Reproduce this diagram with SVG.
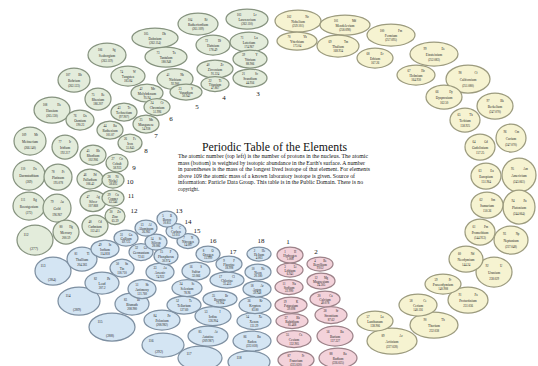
<svg xmlns="http://www.w3.org/2000/svg" width="538" height="366" viewBox="0 0 538 366">
<style>
text{font-family:"Liberation Serif","Times New Roman",serif;font-size:3px;text-anchor:middle;fill:#1e1e1e}
.nm{font-size:3.4px}
.bn{font-size:3.6px}
.d ellipse{fill:#e3ecdb;stroke:#86937f;stroke-width:1.25}
.f ellipse{fill:#f6f3d1;stroke:#9c9b7e;stroke-width:1.25}
.p ellipse{fill:#d4e5f3;stroke:#7e90a2;stroke-width:1.25}
.s ellipse{fill:#f3d2da;stroke:#9c8289;stroke-width:1.25}
.g text{font-size:7px;fill:#111;text-anchor:middle}
.title{font-size:12px;text-anchor:start;fill:#111}
.para{font-size:5.2px;text-anchor:start;fill:#111}
</style>
<rect width="538" height="366" fill="#ffffff"/>
<g id="d-block">
<g id="Lr" class="d" transform="translate(247 19)"><ellipse rx="21" ry="10"/><text y="-3.4"><tspan x="-8">103</tspan><tspan x="8">Lr</tspan></text><text class="nm" y="1.8">Lawrencium</text><text y="6.2">(262.110)</text></g>
<g id="Rf" class="d" transform="translate(198 24)"><ellipse rx="20" ry="11"/><text y="-3.4"><tspan x="-8">104</tspan><tspan x="8">Rf</tspan></text><text class="nm" y="1.8">Rutherfordium</text><text y="6.2">(261.109)</text></g>
<g id="Db" class="d" transform="translate(155 38)"><ellipse rx="23" ry="10"/><text y="-3.4"><tspan x="-9">105</tspan><tspan x="9">Db</tspan></text><text class="nm" y="1.8">Dubnium</text><text y="6.2">(262.114)</text></g>
<g id="Sg" class="d" transform="translate(107 55)"><ellipse rx="19" ry="12"/><text y="-4.2"><tspan x="-7">106</tspan><tspan x="7">Sg</tspan></text><text class="nm" y="2">Seaborgium</text><text y="7">(263.119)</text></g>
<g id="Bh" class="d" transform="translate(74 80)"><ellipse rx="16" ry="12"/><text y="-4.2"><tspan x="-6">107</tspan><tspan x="6">Bh</tspan></text><text class="nm" y="2">Bohrium</text><text y="7">(262.123)</text></g>
<g id="Hs" class="d" transform="translate(52 110)"><ellipse rx="18" ry="13"/><text y="-4.2"><tspan x="-7">108</tspan><tspan x="7">Hs</tspan></text><text class="nm" y="2">Hassium</text><text y="7">(265.130)</text></g>
<g id="Mt" class="d" transform="translate(30 141)"><ellipse rx="16" ry="14"/><text y="-5"><tspan x="-6">109</tspan><tspan x="6">Mt</tspan></text><text class="nm" y="2">Meitnerium</text><text y="7.8">(266.140)</text></g>
<g id="Ds" class="d" transform="translate(29 175)"><ellipse rx="16" ry="15"/><text y="-5"><tspan x="-6">110</tspan><tspan x="6">Ds</tspan></text><text class="nm" y="2">Darmstadtium</text><text y="7.8">(269)</text></g>
<g id="Rg" class="d" transform="translate(29 206)"><ellipse rx="16" ry="14"/><text y="-5"><tspan x="-6">111</tspan><tspan x="6">Rg</tspan></text><text class="nm" y="2">Roentgenium</text><text y="7.8">(272)</text></g>
<g id="E112" class="d" transform="translate(35 240)"><ellipse rx="18" ry="15"/><text class="bn" x="-9" y="-4">112</text><text class="bn" x="-1" y="10">(277)</text></g>
<g id="Lu" class="d" transform="translate(249 42)"><ellipse rx="19" ry="10"/><text y="-3.4"><tspan x="-7">71</tspan><tspan x="7">Lu</tspan></text><text class="nm" y="1.8">Lutetium</text><text y="6.2">174.967</text></g>
<g id="Hf" class="d" transform="translate(213 45)"><ellipse rx="17" ry="10"/><text y="-3.4"><tspan x="-6.5">72</tspan><tspan x="6.5">Hf</tspan></text><text class="nm" y="1.8">Hafnium</text><text y="6.2">178.49</text></g>
<g id="Ta" class="d" transform="translate(166 57)"><ellipse rx="21" ry="10"/><text y="-3.4"><tspan x="-8">73</tspan><tspan x="8">Ta</tspan></text><text class="nm" y="1.8">Tantalum</text><text y="6.2">180.948</text></g>
<g id="W" class="d" transform="translate(128 76)"><ellipse rx="17" ry="10"/><text y="-3.4"><tspan x="-6.5">74</tspan><tspan x="6.5">W</tspan></text><text class="nm" y="1.8">Tungsten</text><text y="6.2">183.84</text></g>
<g id="Re" class="d" transform="translate(98 99)"><ellipse rx="13" ry="11"/><text y="-3.4"><tspan x="-5">75</tspan><tspan x="5">Re</tspan></text><text class="nm" y="1.8">Rhenium</text><text y="6.2">186.207</text></g>
<g id="Os" class="d" transform="translate(80 120)"><ellipse rx="14" ry="10"/><text y="-3.4"><tspan x="-5">76</tspan><tspan x="5">Os</tspan></text><text class="nm" y="1.8">Osmium</text><text y="6.2">190.23</text></g>
<g id="Ir" class="d" transform="translate(65 147)"><ellipse rx="13" ry="12"/><text y="-4.2"><tspan x="-5">77</tspan><tspan x="5">Ir</tspan></text><text class="nm" y="2">Iridium</text><text y="7">192.217</text></g>
<g id="Pt" class="d" transform="translate(58 177)"><ellipse rx="14" ry="13"/><text y="-4.2"><tspan x="-5">78</tspan><tspan x="5">Pt</tspan></text><text class="nm" y="2">Platinum</text><text y="7">195.078</text></g>
<g id="Au" class="d" transform="translate(57 208)"><ellipse rx="14" ry="14"/><text y="-5"><tspan x="-5">79</tspan><tspan x="5">Au</tspan></text><text class="nm" y="2">Gold</text><text y="7.8">196.967</text></g>
<g id="Hg" class="d" transform="translate(66 232)"><ellipse rx="13" ry="12"/><text y="-4.2"><tspan x="-5">80</tspan><tspan x="5">Hg</tspan></text><text class="nm" y="2">Mercury</text><text y="7">200.59</text></g>
<g id="Y" class="d" transform="translate(250 59)"><ellipse rx="17" ry="9"/><text y="-2.8"><tspan x="-6.5">39</tspan><tspan x="6.5">Y</tspan></text><text class="nm" y="1.8">Yttrium</text><text y="5.6">88.906</text></g>
<g id="Zr" class="d" transform="translate(215 69)"><ellipse rx="18" ry="9"/><text y="-2.8"><tspan x="-7">40</tspan><tspan x="7">Zr</tspan></text><text class="nm" y="1.8">Zirconium</text><text y="5.6">91.224</text></g>
<g id="Nb" class="d" transform="translate(175 79)"><ellipse rx="18" ry="10.5"/><text y="-3.4"><tspan x="-7">41</tspan><tspan x="7">Nb</tspan></text><text class="nm" y="1.8">Niobium</text><text y="6.2">92.906</text></g>
<g id="Mo" class="d" transform="translate(147 93)"><ellipse rx="16" ry="9"/><text y="-2.8"><tspan x="-6">42</tspan><tspan x="6">Mo</tspan></text><text class="nm" y="1.8">Molybdenum</text><text y="5.6">95.94</text></g>
<g id="Tc" class="d" transform="translate(124 112)"><ellipse rx="13" ry="9"/><text y="-2.8"><tspan x="-5">43</tspan><tspan x="5">Tc</tspan></text><text class="nm" y="1.8">Technetium</text><text y="5.6">(97.907)</text></g>
<g id="Ru" class="d" transform="translate(110 130)"><ellipse rx="13" ry="9"/><text y="-2.8"><tspan x="-5">44</tspan><tspan x="5">Ru</tspan></text><text class="nm" y="1.8">Ruthenium</text><text y="5.6">101.07</text></g>
<g id="Rh" class="d" transform="translate(93 155)"><ellipse rx="13" ry="10"/><text y="-3.4"><tspan x="-5">45</tspan><tspan x="5">Rh</tspan></text><text class="nm" y="1.8">Rhodium</text><text y="6.2">102.906</text></g>
<g id="Pd" class="d" transform="translate(90 179)"><ellipse rx="13" ry="10"/><text y="-3.4"><tspan x="-5">46</tspan><tspan x="5">Pd</tspan></text><text class="nm" y="1.8">Palladium</text><text y="6.2">106.42</text></g>
<g id="Ag" class="d" transform="translate(93 201)"><ellipse rx="13" ry="10.5"/><text y="-3.4"><tspan x="-5">47</tspan><tspan x="5">Ag</tspan></text><text class="nm" y="1.8">Silver</text><text y="6.2">107.868</text></g>
<g id="Cd" class="d" transform="translate(95 226)"><ellipse rx="13" ry="11"/><text y="-3.4"><tspan x="-5">48</tspan><tspan x="5">Cd</tspan></text><text class="nm" y="1.8">Cadmium</text><text y="6.2">112.411</text></g>
<g id="Sc" class="d" transform="translate(250 78)"><ellipse rx="17" ry="9"/><text y="-2.8"><tspan x="-6.5">21</tspan><tspan x="6.5">Sc</tspan></text><text class="nm" y="1.8">Scandium</text><text y="5.6">44.956</text></g>
<g id="Ti" class="d" transform="translate(215 84)"><ellipse rx="14" ry="7.5"/><text y="-2.2"><tspan x="-5">22</tspan><tspan x="5">Ti</tspan></text><text class="nm" y="1.6">Titanium</text><text y="5">47.867</text></g>
<g id="V" class="d" transform="translate(186 92)"><ellipse rx="16" ry="8"/><text y="-2.2"><tspan x="-6">23</tspan><tspan x="6">V</tspan></text><text class="nm" y="1.6">Vanadium</text><text y="5">50.942</text></g>
<g id="Cr" class="d" transform="translate(157 107)"><ellipse rx="13" ry="8.5"/><text y="-2.8"><tspan x="-5">24</tspan><tspan x="5">Cr</tspan></text><text class="nm" y="1.8">Chromium</text><text y="5.6">51.996</text></g>
<g id="Mn" class="d" transform="translate(146 124)"><ellipse rx="13" ry="9"/><text y="-2.8"><tspan x="-5">25</tspan><tspan x="5">Mn</tspan></text><text class="nm" y="1.8">Manganese</text><text y="5.6">54.938</text></g>
<g id="Fe" class="d" transform="translate(130 143)"><ellipse rx="12" ry="9"/><text y="-2.8"><tspan x="-4.5">26</tspan><tspan x="4.5">Fe</tspan></text><text class="nm" y="1.8">Iron</text><text y="5.6">55.845</text></g>
<g id="Co" class="d" transform="translate(117 163)"><ellipse rx="11" ry="9"/><text y="-2.8"><tspan x="-4">27</tspan><tspan x="4">Co</tspan></text><text class="nm" y="1.8">Cobalt</text><text y="5.6">58.933</text></g>
<g id="Ni" class="d" transform="translate(113 180)"><ellipse rx="11" ry="8"/><text y="-2.2"><tspan x="-4">28</tspan><tspan x="4">Ni</tspan></text><text class="nm" y="1.6">Nickel</text><text y="5">58.693</text></g>
<g id="Cu" class="d" transform="translate(113 198)"><ellipse rx="11" ry="8"/><text y="-2.2"><tspan x="-4">29</tspan><tspan x="4">Cu</tspan></text><text class="nm" y="1.6">Copper</text><text y="5">63.546</text></g>
<g id="Zn" class="d" transform="translate(115 216)"><ellipse rx="10" ry="8.5"/><text y="-2.8"><tspan x="-4">30</tspan><tspan x="4">Zn</tspan></text><text class="nm" y="1.8">Zinc</text><text y="5.6">65.39</text></g>
</g>
<g id="f-block">
<g id="No" class="f" transform="translate(298 21)"><ellipse rx="23" ry="11"/><text y="-3.4"><tspan x="-9">102</tspan><tspan x="9">No</tspan></text><text class="nm" y="1.8">Nobelium</text><text y="6.2">(259.101)</text></g>
<g id="Md" class="f" transform="translate(345 25)"><ellipse rx="25" ry="10"/><text y="-3.4"><tspan x="-9">101</tspan><tspan x="9">Md</tspan></text><text class="nm" y="1.8">Mendelevium</text><text y="6.2">(258.098)</text></g>
<g id="Fm" class="f" transform="translate(391 35)"><ellipse rx="24" ry="11"/><text y="-3.4"><tspan x="-9">100</tspan><tspan x="9">Fm</tspan></text><text class="nm" y="1.8">Fermium</text><text y="6.2">(257.095)</text></g>
<g id="Es" class="f" transform="translate(434 54)"><ellipse rx="24" ry="12"/><text y="-4.2"><tspan x="-9">99</tspan><tspan x="9">Es</tspan></text><text class="nm" y="2">Einsteinium</text><text y="7">(252.083)</text></g>
<g id="Cf" class="f" transform="translate(468 79)"><ellipse rx="22" ry="14"/><text y="-5"><tspan x="-8">98</tspan><tspan x="8">Cf</tspan></text><text class="nm" y="2">Californium</text><text y="7.8">(251.080)</text></g>
<g id="Bk" class="f" transform="translate(495 106)"><ellipse rx="18" ry="13"/><text y="-4.2"><tspan x="-7">97</tspan><tspan x="7">Bk</tspan></text><text class="nm" y="2">Berkelium</text><text y="7">(247.070)</text></g>
<g id="Cm" class="f" transform="translate(511 138)"><ellipse rx="15" ry="14"/><text y="-5"><tspan x="-6">96</tspan><tspan x="6">Cm</tspan></text><text class="nm" y="2">Curium</text><text y="7.8">(247.070)</text></g>
<g id="Am" class="f" transform="translate(519 175)"><ellipse rx="17" ry="17"/><text y="-5"><tspan x="-6.5">95</tspan><tspan x="6.5">Am</tspan></text><text class="nm" y="2">Americium</text><text y="7.8">(243.061)</text></g>
<g id="Pu" class="f" transform="translate(519 207)"><ellipse rx="16" ry="17"/><text y="-5"><tspan x="-6">94</tspan><tspan x="6">Pu</tspan></text><text class="nm" y="2">Plutonium</text><text y="7.8">(244.064)</text></g>
<g id="Np" class="f" transform="translate(511 240)"><ellipse rx="17" ry="14"/><text y="-5"><tspan x="-6.5">93</tspan><tspan x="6.5">Np</tspan></text><text class="nm" y="2">Neptunium</text><text y="7.8">(237.048)</text></g>
<g id="U" class="f" transform="translate(494 272)"><ellipse rx="18" ry="15"/><text y="-5"><tspan x="-7">92</tspan><tspan x="7">U</tspan></text><text class="nm" y="2">Uranium</text><text y="7.8">238.029</text></g>
<g id="Pa" class="f" transform="translate(468 300)"><ellipse rx="20" ry="13"/><text y="-4.2"><tspan x="-8">91</tspan><tspan x="8">Pa</tspan></text><text class="nm" y="2">Protactinium</text><text y="7">231.036</text></g>
<g id="Th" class="f" transform="translate(434 325)"><ellipse rx="24" ry="13"/><text y="-4.2"><tspan x="-9">90</tspan><tspan x="9">Th</tspan></text><text class="nm" y="2">Thorium</text><text y="7">232.038</text></g>
<g id="Ac" class="f" transform="translate(392 341)"><ellipse rx="25" ry="13"/><text y="-4.2"><tspan x="-9">89</tspan><tspan x="9">Ac</tspan></text><text class="nm" y="2">Actinium</text><text y="7">(227.028)</text></g>
<g id="Yb" class="f" transform="translate(297 41)"><ellipse rx="20" ry="9"/><text y="-2.8"><tspan x="-8">70</tspan><tspan x="8">Yb</tspan></text><text class="nm" y="1.8">Ytterbium</text><text y="5.6">173.04</text></g>
<g id="Tm" class="f" transform="translate(338 46)"><ellipse rx="21" ry="11"/><text y="-3.4"><tspan x="-8">69</tspan><tspan x="8">Tm</tspan></text><text class="nm" y="1.8">Thulium</text><text y="6.2">168.934</text></g>
<g id="Er" class="f" transform="translate(375 58)"><ellipse rx="18" ry="10"/><text y="-3.4"><tspan x="-7">68</tspan><tspan x="7">Er</tspan></text><text class="nm" y="1.8">Erbium</text><text y="6.2">167.26</text></g>
<g id="Ho" class="f" transform="translate(416 75)"><ellipse rx="19" ry="10"/><text y="-3.4"><tspan x="-7">67</tspan><tspan x="7">Ho</tspan></text><text class="nm" y="1.8">Holmium</text><text y="6.2">164.930</text></g>
<g id="Dy" class="f" transform="translate(444 97)"><ellipse rx="18" ry="12"/><text y="-4.2"><tspan x="-7">66</tspan><tspan x="7">Dy</tspan></text><text class="nm" y="2">Dysprosium</text><text y="7">162.50</text></g>
<g id="Tb" class="f" transform="translate(465 120)"><ellipse rx="15" ry="12"/><text y="-4.2"><tspan x="-6">65</tspan><tspan x="6">Tb</tspan></text><text class="nm" y="2">Terbium</text><text y="7">158.925</text></g>
<g id="Gd" class="f" transform="translate(480 147)"><ellipse rx="15" ry="13"/><text y="-4.2"><tspan x="-6">64</tspan><tspan x="6">Gd</tspan></text><text class="nm" y="2">Gadolinium</text><text y="7">157.25</text></g>
<g id="Eu" class="f" transform="translate(486 176)"><ellipse rx="15" ry="13"/><text y="-4.2"><tspan x="-6">63</tspan><tspan x="6">Eu</tspan></text><text class="nm" y="2">Europium</text><text y="7">151.964</text></g>
<g id="Sm" class="f" transform="translate(487 205)"><ellipse rx="16" ry="13"/><text y="-4.2"><tspan x="-6">62</tspan><tspan x="6">Sm</tspan></text><text class="nm" y="2">Samarium</text><text y="7">150.36</text></g>
<g id="Pm" class="f" transform="translate(480 232)"><ellipse rx="15" ry="13"/><text y="-4.2"><tspan x="-6">61</tspan><tspan x="6">Pm</tspan></text><text class="nm" y="2">Promethium</text><text y="7">(144.913)</text></g>
<g id="Nd" class="f" transform="translate(466 259)"><ellipse rx="17" ry="13"/><text y="-4.2"><tspan x="-6.5">60</tspan><tspan x="6.5">Nd</tspan></text><text class="nm" y="2">Neodymium</text><text y="7">144.24</text></g>
<g id="Pr" class="f" transform="translate(443 284)"><ellipse rx="18" ry="10"/><text y="-3.4"><tspan x="-7">59</tspan><tspan x="7">Pr</tspan></text><text class="nm" y="1.8">Praseodymium</text><text y="6.2">140.908</text></g>
<g id="Ce" class="f" transform="translate(418 305)"><ellipse rx="19" ry="11"/><text y="-3.4"><tspan x="-7">58</tspan><tspan x="7">Ce</tspan></text><text class="nm" y="1.8">Cerium</text><text y="6.2">140.116</text></g>
<g id="La" class="f" transform="translate(375 321)"><ellipse rx="18" ry="10"/><text y="-3.4"><tspan x="-7">57</tspan><tspan x="7">La</tspan></text><text class="nm" y="1.8">Lanthanum</text><text y="6.2">138.906</text></g>
</g>
<g id="s-block">
<g id="H" class="s" transform="translate(290 255)"><ellipse rx="13" ry="8"/><text y="-2.2"><tspan x="-5">1</tspan><tspan x="5">H</tspan></text><text class="nm" y="1.6">Hydrogen</text><text y="5">1.008</text></g>
<g id="Li" class="s" transform="translate(290 270)"><ellipse rx="13" ry="7"/><text y="-2.2"><tspan x="-5">3</tspan><tspan x="5">Li</tspan></text><text class="nm" y="1.6">Lithium</text><text y="5">6.941</text></g>
<g id="Na" class="s" transform="translate(289 287)"><ellipse rx="14" ry="7.5"/><text y="-2.2"><tspan x="-5">11</tspan><tspan x="5">Na</tspan></text><text class="nm" y="1.6">Sodium</text><text y="5">22.990</text></g>
<g id="K" class="s" transform="translate(291 305)"><ellipse rx="16" ry="8"/><text y="-2.2"><tspan x="-6">19</tspan><tspan x="6">K</tspan></text><text class="nm" y="1.6">Potassium</text><text y="5">39.098</text></g>
<g id="Rb" class="s" transform="translate(292 321)"><ellipse rx="16" ry="7.5"/><text y="-2.2"><tspan x="-6">37</tspan><tspan x="6">Rb</tspan></text><text class="nm" y="1.6">Rubidium</text><text y="5">85.468</text></g>
<g id="Cs" class="s" transform="translate(294 339)"><ellipse rx="17" ry="8.5"/><text y="-2.8"><tspan x="-6.5">55</tspan><tspan x="6.5">Cs</tspan></text><text class="nm" y="1.8">Cesium</text><text y="5.6">132.905</text></g>
<g id="Fr" class="s" transform="translate(296 360)"><ellipse rx="18" ry="9"/><text y="-2.8"><tspan x="-7">87</tspan><tspan x="7">Fr</tspan></text><text class="nm" y="1.8">Francium</text><text y="5.6">(223.020)</text></g>
<g id="Be" class="s" transform="translate(320 264)"><ellipse rx="13" ry="7"/><text y="-2.2"><tspan x="-5">4</tspan><tspan x="5">Be</tspan></text><text class="nm" y="1.6">Beryllium</text><text y="5">9.012</text></g>
<g id="Mg" class="s" transform="translate(321 281)"><ellipse rx="14" ry="8"/><text y="-2.2"><tspan x="-5">12</tspan><tspan x="5">Mg</tspan></text><text class="nm" y="1.6">Magnesium</text><text y="5">24.305</text></g>
<g id="Ca" class="s" transform="translate(325 299)"><ellipse rx="15" ry="8"/><text y="-2.2"><tspan x="-6">20</tspan><tspan x="6">Ca</tspan></text><text class="nm" y="1.6">Calcium</text><text y="5">40.078</text></g>
<g id="Sr" class="s" transform="translate(331 315)"><ellipse rx="16" ry="8.5"/><text y="-2.8"><tspan x="-6">38</tspan><tspan x="6">Sr</tspan></text><text class="nm" y="1.8">Strontium</text><text y="5.6">87.62</text></g>
<g id="Ba" class="s" transform="translate(335 336)"><ellipse rx="18" ry="10"/><text y="-3.4"><tspan x="-7">56</tspan><tspan x="7">Ba</tspan></text><text class="nm" y="1.8">Barium</text><text y="6.2">137.327</text></g>
<g id="Ra" class="s" transform="translate(338 358)"><ellipse rx="19" ry="10"/><text y="-3.4"><tspan x="-7">88</tspan><tspan x="7">Ra</tspan></text><text class="nm" y="1.8">Radium</text><text y="6.2">(226.025)</text></g>
</g>
<g id="p-block">
<g id="E118" class="p" transform="translate(249 362)"><ellipse rx="21" ry="11"/><text class="bn" x="-10" y="-3">118</text></g>
<g id="E117" class="p" transform="translate(200 358)"><ellipse rx="22" ry="12"/><text class="bn" x="-11" y="-3">117</text></g>
<g id="E116" class="p" transform="translate(163 345)"><ellipse rx="21" ry="12"/><text class="bn" x="-12" y="-3">116</text><text class="bn" x="-4" y="8">(292)</text></g>
<g id="E115" class="p" transform="translate(112 327)"><ellipse rx="23" ry="14"/><text class="bn" x="-12" y="-4">115</text><text class="bn" x="-2" y="10">(288)</text></g>
<g id="E114" class="p" transform="translate(79 301)"><ellipse rx="21" ry="14"/><text class="bn" x="-11" y="-4">114</text><text class="bn" x="-2" y="10">(289)</text></g>
<g id="E113" class="p" transform="translate(53 271)"><ellipse rx="18" ry="14"/><text class="bn" x="-10" y="-4">113</text><text class="bn" x="-1" y="10">(284)</text></g>
<g id="Rn" class="p" transform="translate(252 341)"><ellipse rx="19" ry="10"/><text y="-3.4"><tspan x="-7">86</tspan><tspan x="7">Rn</tspan></text><text class="nm" y="1.8">Radon</text><text y="6.2">(222.018)</text></g>
<g id="At" class="p" transform="translate(208 336)"><ellipse rx="20" ry="10"/><text y="-3.4"><tspan x="-8">85</tspan><tspan x="8">At</tspan></text><text class="nm" y="1.8">Astatine</text><text y="6.2">(209.987)</text></g>
<g id="Po" class="p" transform="translate(162 320)"><ellipse rx="18" ry="10"/><text y="-3.4"><tspan x="-7">84</tspan><tspan x="7">Po</tspan></text><text class="nm" y="1.8">Polonium</text><text y="6.2">(208.982)</text></g>
<g id="Bi" class="p" transform="translate(132 304)"><ellipse rx="17" ry="11"/><text y="-3.4"><tspan x="-6.5">83</tspan><tspan x="6.5">Bi</tspan></text><text class="nm" y="1.8">Bismuth</text><text y="6.2">208.980</text></g>
<g id="Pb" class="p" transform="translate(102 283)"><ellipse rx="17" ry="11"/><text y="-3.4"><tspan x="-6.5">82</tspan><tspan x="6.5">Pb</tspan></text><text class="nm" y="1.8">Lead</text><text y="6.2">207.2</text></g>
<g id="Tl" class="p" transform="translate(82 259)"><ellipse rx="15" ry="12"/><text y="-4.2"><tspan x="-6">81</tspan><tspan x="6">Tl</tspan></text><text class="nm" y="2">Thallium</text><text y="7">204.383</text></g>
<g id="Xe" class="p" transform="translate(254 321)"><ellipse rx="17" ry="8.5"/><text y="-2.8"><tspan x="-6.5">54</tspan><tspan x="6.5">Xe</tspan></text><text class="nm" y="1.8">Xenon</text><text y="5.6">131.29</text></g>
<g id="I" class="p" transform="translate(213 316)"><ellipse rx="18" ry="9.5"/><text y="-2.8"><tspan x="-7">53</tspan><tspan x="7">I</tspan></text><text class="nm" y="1.8">Iodine</text><text y="5.6">126.904</text></g>
<g id="Te" class="p" transform="translate(184 305)"><ellipse rx="17" ry="9"/><text y="-2.8"><tspan x="-6.5">52</tspan><tspan x="6.5">Te</tspan></text><text class="nm" y="1.8">Tellurium</text><text y="5.6">127.60</text></g>
<g id="Sb" class="p" transform="translate(142 289)"><ellipse rx="14" ry="9.5"/><text y="-2.8"><tspan x="-5">51</tspan><tspan x="5">Sb</tspan></text><text class="nm" y="1.8">Antimony</text><text y="5.6">121.760</text></g>
<g id="Sn" class="p" transform="translate(122 268)"><ellipse rx="12" ry="9"/><text y="-2.8"><tspan x="-4.5">50</tspan><tspan x="4.5">Sn</tspan></text><text class="nm" y="1.8">Tin</text><text y="5.6">118.710</text></g>
<g id="In" class="p" transform="translate(105 249)"><ellipse rx="14" ry="9"/><text y="-2.8"><tspan x="-5">49</tspan><tspan x="5">In</tspan></text><text class="nm" y="1.8">Indium</text><text y="5.6">114.818</text></g>
<g id="Kr" class="p" transform="translate(255 305)"><ellipse rx="16" ry="8.5"/><text y="-2.8"><tspan x="-6">36</tspan><tspan x="6">Kr</tspan></text><text class="nm" y="1.8">Krypton</text><text y="5.6">83.80</text></g>
<g id="Br" class="p" transform="translate(220 299)"><ellipse rx="17" ry="8"/><text y="-2.2"><tspan x="-6.5">35</tspan><tspan x="6.5">Br</tspan></text><text class="nm" y="1.6">Bromine</text><text y="5">79.904</text></g>
<g id="Se" class="p" transform="translate(187 288)"><ellipse rx="15" ry="8.5"/><text y="-2.8"><tspan x="-6">34</tspan><tspan x="6">Se</tspan></text><text class="nm" y="1.8">Selenium</text><text y="5.6">78.96</text></g>
<g id="As" class="p" transform="translate(160 272)"><ellipse rx="14" ry="9"/><text y="-2.8"><tspan x="-5">33</tspan><tspan x="5">As</tspan></text><text class="nm" y="1.8">Arsenic</text><text y="5.6">74.922</text></g>
<g id="Ge" class="p" transform="translate(141 252)"><ellipse rx="12" ry="8.5"/><text y="-2.8"><tspan x="-4.5">32</tspan><tspan x="4.5">Ge</tspan></text><text class="nm" y="1.8">Germanium</text><text y="5.6">72.61</text></g>
<g id="Ga" class="p" transform="translate(126 238)"><ellipse rx="12" ry="8"/><text y="-2.2"><tspan x="-4.5">31</tspan><tspan x="4.5">Ga</tspan></text><text class="nm" y="1.6">Gallium</text><text y="5">69.723</text></g>
<g id="Ar" class="p" transform="translate(257 289)"><ellipse rx="14" ry="8"/><text y="-2.2"><tspan x="-5">18</tspan><tspan x="5">Ar</tspan></text><text class="nm" y="1.6">Argon</text><text y="5">39.948</text></g>
<g id="Cl" class="p" transform="translate(227 280)"><ellipse rx="17" ry="8"/><text y="-2.2"><tspan x="-6.5">17</tspan><tspan x="6.5">Cl</tspan></text><text class="nm" y="1.6">Chlorine</text><text y="5">35.453</text></g>
<g id="S" class="p" transform="translate(196 271)"><ellipse rx="14" ry="9"/><text y="-2.8"><tspan x="-5">16</tspan><tspan x="5">S</tspan></text><text class="nm" y="1.8">Sulfur</text><text y="5.6">32.066</text></g>
<g id="P" class="p" transform="translate(166 256)"><ellipse rx="12" ry="8.5"/><text y="-2.8"><tspan x="-4.5">15</tspan><tspan x="4.5">P</tspan></text><text class="nm" y="1.8">Phosphorus</text><text y="5.6">30.974</text></g>
<g id="Si" class="p" transform="translate(156 242)"><ellipse rx="11" ry="8"/><text y="-2.2"><tspan x="-4">14</tspan><tspan x="4">Si</tspan></text><text class="nm" y="1.6">Silicon</text><text y="5">28.086</text></g>
<g id="Al" class="p" transform="translate(146 228)"><ellipse rx="11" ry="8"/><text y="-2.2"><tspan x="-4">13</tspan><tspan x="4">Al</tspan></text><text class="nm" y="1.6">Aluminum</text><text y="5">26.982</text></g>
<g id="Ne" class="p" transform="translate(258 272)"><ellipse rx="13" ry="8"/><text y="-2.2"><tspan x="-5">10</tspan><tspan x="5">Ne</tspan></text><text class="nm" y="1.6">Neon</text><text y="5">20.180</text></g>
<g id="F" class="p" transform="translate(229 264)"><ellipse rx="13" ry="8"/><text y="-2.2"><tspan x="-5">9</tspan><tspan x="5">F</tspan></text><text class="nm" y="1.6">Fluorine</text><text y="5">18.998</text></g>
<g id="O" class="p" transform="translate(208 254)"><ellipse rx="12" ry="8"/><text y="-2.2"><tspan x="-4.5">8</tspan><tspan x="4.5">O</tspan></text><text class="nm" y="1.6">Oxygen</text><text y="5">15.999</text></g>
<g id="N" class="p" transform="translate(188 241)"><ellipse rx="11" ry="7.5"/><text y="-2.2"><tspan x="-4">7</tspan><tspan x="4">N</tspan></text><text class="nm" y="1.6">Nitrogen</text><text y="5">14.007</text></g>
<g id="C" class="p" transform="translate(176 231)"><ellipse rx="10" ry="7.5"/><text y="-2.2"><tspan x="-4">6</tspan><tspan x="4">C</tspan></text><text class="nm" y="1.6">Carbon</text><text y="5">12.011</text></g>
<g id="B" class="p" transform="translate(167 219)"><ellipse rx="10" ry="8"/><text y="-2.2"><tspan x="-4">5</tspan><tspan x="4">B</tspan></text><text class="nm" y="1.6">Boron</text><text y="5">10.811</text></g>
<g id="He" class="p" transform="translate(259 254)"><ellipse rx="12" ry="7"/><text y="-2.2"><tspan x="-4.5">2</tspan><tspan x="4.5">He</tspan></text><text class="nm" y="1.6">Helium</text><text y="5">4.003</text></g>
</g>
<g id="group-labels" class="g">
<text x="288" y="244">1</text><text x="316" y="254">2</text>
<text x="258" y="96">3</text><text x="224" y="100">4</text><text x="197" y="109">5</text><text x="171" y="121">6</text>
<text x="156" y="138">7</text><text x="146" y="153">8</text><text x="134" y="170">9</text><text x="130" y="184">10</text>
<text x="131" y="198">11</text><text x="134" y="213">12</text><text x="179" y="213">13</text><text x="188" y="224">14</text>
<text x="197" y="233">15</text><text x="213" y="243">16</text><text x="233" y="254">17</text><text x="261" y="243">18</text>
</g>
<g id="legend">
<text class="title" x="202" y="151" textLength="145" lengthAdjust="spacingAndGlyphs">Periodic Table of the Elements</text>
<text class="para" x="178" y="158" textLength="190" lengthAdjust="spacingAndGlyphs">The atomic number (top left) is the number of protons in the nucleus.  The atomic</text>
<text class="para" x="178" y="164.5" textLength="187" lengthAdjust="spacingAndGlyphs">mass (bottom) is weighted by isotopic abundance in the Earth's surface.  A number</text>
<text class="para" x="178" y="171" textLength="192" lengthAdjust="spacingAndGlyphs">in parentheses is the mass of the longest lived isotope of that element.  For elements</text>
<text class="para" x="178" y="177.5" textLength="177" lengthAdjust="spacingAndGlyphs">above 109 the atomic mass of a known laboratory isotope is given.  Source of</text>
<text class="para" x="178" y="184" textLength="185" lengthAdjust="spacingAndGlyphs">information: Particle Data Group.  This table is in the Public Domain.  There is no</text>
<text class="para" x="178" y="190.5">copyright.</text>
</g>
</svg>
